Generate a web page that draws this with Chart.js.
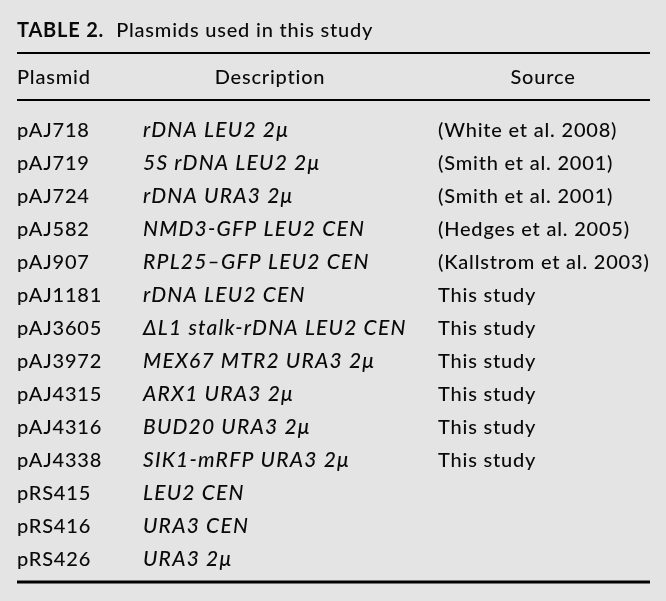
<!DOCTYPE html>
<html>
<head>
<meta charset="utf-8">
<script src="https://cdn.jsdelivr.net/npm/chart.js@4/dist/chart.umd.min.js"></script>
<style>
  html, body { margin: 0; padding: 0; background: #e4e4e4; }
  canvas { display: block; }
</style>
</head>
<body>
<canvas id="plasmidTable" width="666" height="601"></canvas>
<script>
const TITLE_BOLD = "TABLE 2.";
const TITLE_TEXT = "Plasmids used in this study";
const HEADERS = ["Plasmid", "Description", "Source"];

const plasmids = [
  "pAJ718", "pAJ719", "pAJ724", "pAJ582", "pAJ907", "pAJ1181", "pAJ3605",
  "pAJ3972", "pAJ4315", "pAJ4316", "pAJ4338", "pRS415", "pRS416", "pRS426",
];
const descriptions = [
  "rDNA LEU2 2\u03bc",
  "5S rDNA LEU2 2\u03bc",
  "rDNA URA3 2\u03bc",
  "NMD3-GFP LEU2 CEN",
  "RPL25\u2013GFP LEU2 CEN",
  "rDNA LEU2 CEN",
  "\u0394L1 stalk-rDNA LEU2 CEN",
  "MEX67 MTR2 URA3 2\u03bc",
  "ARX1 URA3 2\u03bc",
  "BUD20 URA3 2\u03bc",
  "SIK1-mRFP URA3 2\u03bc",
  "LEU2 CEN",
  "URA3 CEN",
  "URA3 2\u03bc",
];
const sources = [
  "(White et al. 2008)",
  "(Smith et al. 2001)",
  "(Smith et al. 2001)",
  "(Hedges et al. 2005)",
  "(Kallstrom et al. 2003)",
  "This study",
  "This study",
  "This study",
  "This study",
  "This study",
  "This study",
  "",
  "",
  "",
];

// layout: x in px from the left rule end, y in row units (row i baseline)
const COL_X = [0, 126, 421];
const HEADER_X = [0, 253, 526];
const HEADER_ALIGN = ["left", "center", "center"];
const HEADER_Y = -1.606;
const HEADER_RULE_Y = -1.121;
const TITLE_Y = -3.03;
const FONT_FAMILY = "Lato, 'Open Sans', sans-serif";
const TEXT_COLOUR = "#0a0a0a";

function column(values, x) {
  return values.map((v, i) => ({ x: x, y: i }));
}

const tableText = {
  id: "tableText",
  beforeDraw(chart) {
    const ctx = chart.ctx;
    ctx.save();
    ctx.fillStyle = "#e4e4e4";
    ctx.fillRect(0, 0, chart.width, chart.height);
    ctx.restore();
  },
  afterDatasetsDraw(chart) {
    const ctx = chart.ctx;
    const area = chart.chartArea;
    const yScale = chart.scales.y;
    ctx.save();
    ctx.fillStyle = TEXT_COLOUR;
    ctx.textBaseline = "alphabetic";

    chart.data.datasets.forEach((ds, di) => {
      const meta = chart.getDatasetMeta(di);
      ctx.font = ds.cellFont;
      ctx.letterSpacing = ds.cellSpacing;
      meta.data.forEach((pt, i) => {
        ctx.textAlign = Array.isArray(ds.cellAlign) ? ds.cellAlign[i] : ds.cellAlign;
        ctx.fillText(ds.cellText[i], pt.x, pt.y);
      });
    });

    // title
    const ty = yScale.getPixelForValue(TITLE_Y);
    ctx.letterSpacing = "0.8px";
    ctx.textAlign = "left";
    ctx.font = "bold 20px " + FONT_FAMILY;
    ctx.fillText(TITLE_BOLD, area.left, ty);
    const w = ctx.measureText(TITLE_BOLD).width;
    ctx.font = "500 20px " + FONT_FAMILY;
    ctx.fillText(TITLE_TEXT, area.left + w + 12, ty);

    // rules
    ctx.strokeStyle = "#000";
    ctx.lineWidth = 2;
    ctx.beginPath();
    ctx.moveTo(area.left, area.top);
    ctx.lineTo(area.right, area.top);
    const hy = yScale.getPixelForValue(HEADER_RULE_Y);
    ctx.moveTo(area.left, hy);
    ctx.lineTo(area.right, hy);
    ctx.stroke();
    ctx.lineWidth = 3;
    ctx.beginPath();
    ctx.moveTo(area.left, area.bottom);
    ctx.lineTo(area.right, area.bottom);
    ctx.stroke();
    ctx.restore();
  },
};

new Chart(document.getElementById("plasmidTable"), {
  type: "scatter",
  data: {
    datasets: [
      {
        data: HEADERS.map((h, i) => ({ x: HEADER_X[i], y: HEADER_Y })),
        cellText: HEADERS,
        cellFont: "500 20px " + FONT_FAMILY,
        cellSpacing: "0.8px",
        cellAlign: HEADER_ALIGN,
        pointRadius: 0,
      },
      {
        data: column(plasmids, COL_X[0]),
        cellText: plasmids,
        cellFont: "500 20px " + FONT_FAMILY,
        cellSpacing: "0.8px",
        cellAlign: "left",
        pointRadius: 0,
      },
      {
        data: column(descriptions, COL_X[1]),
        cellText: descriptions,
        cellFont: "italic 500 21px " + FONT_FAMILY,
        cellSpacing: "1.2px",
        cellAlign: "left",
        pointRadius: 0,
      },
      {
        data: column(sources, COL_X[2]),
        cellText: sources,
        cellFont: "500 20px " + FONT_FAMILY,
        cellSpacing: "0.8px",
        cellAlign: "left",
        pointRadius: 0,
      },
    ],
  },
  options: {
    responsive: false,
    animation: false,
    events: [],
    layout: { padding: { left: 17, right: 16, top: 53, bottom: 19 } },
    plugins: {
      legend: { display: false },
      tooltip: { enabled: false },
    },
    scales: {
      x: { type: "linear", display: false, min: 0, max: 633 },
      y: { type: "linear", display: false, min: -2.545, max: 13.485, reverse: true },
    },
  },
  plugins: [tableText],
});
</script>
</body>
</html>
